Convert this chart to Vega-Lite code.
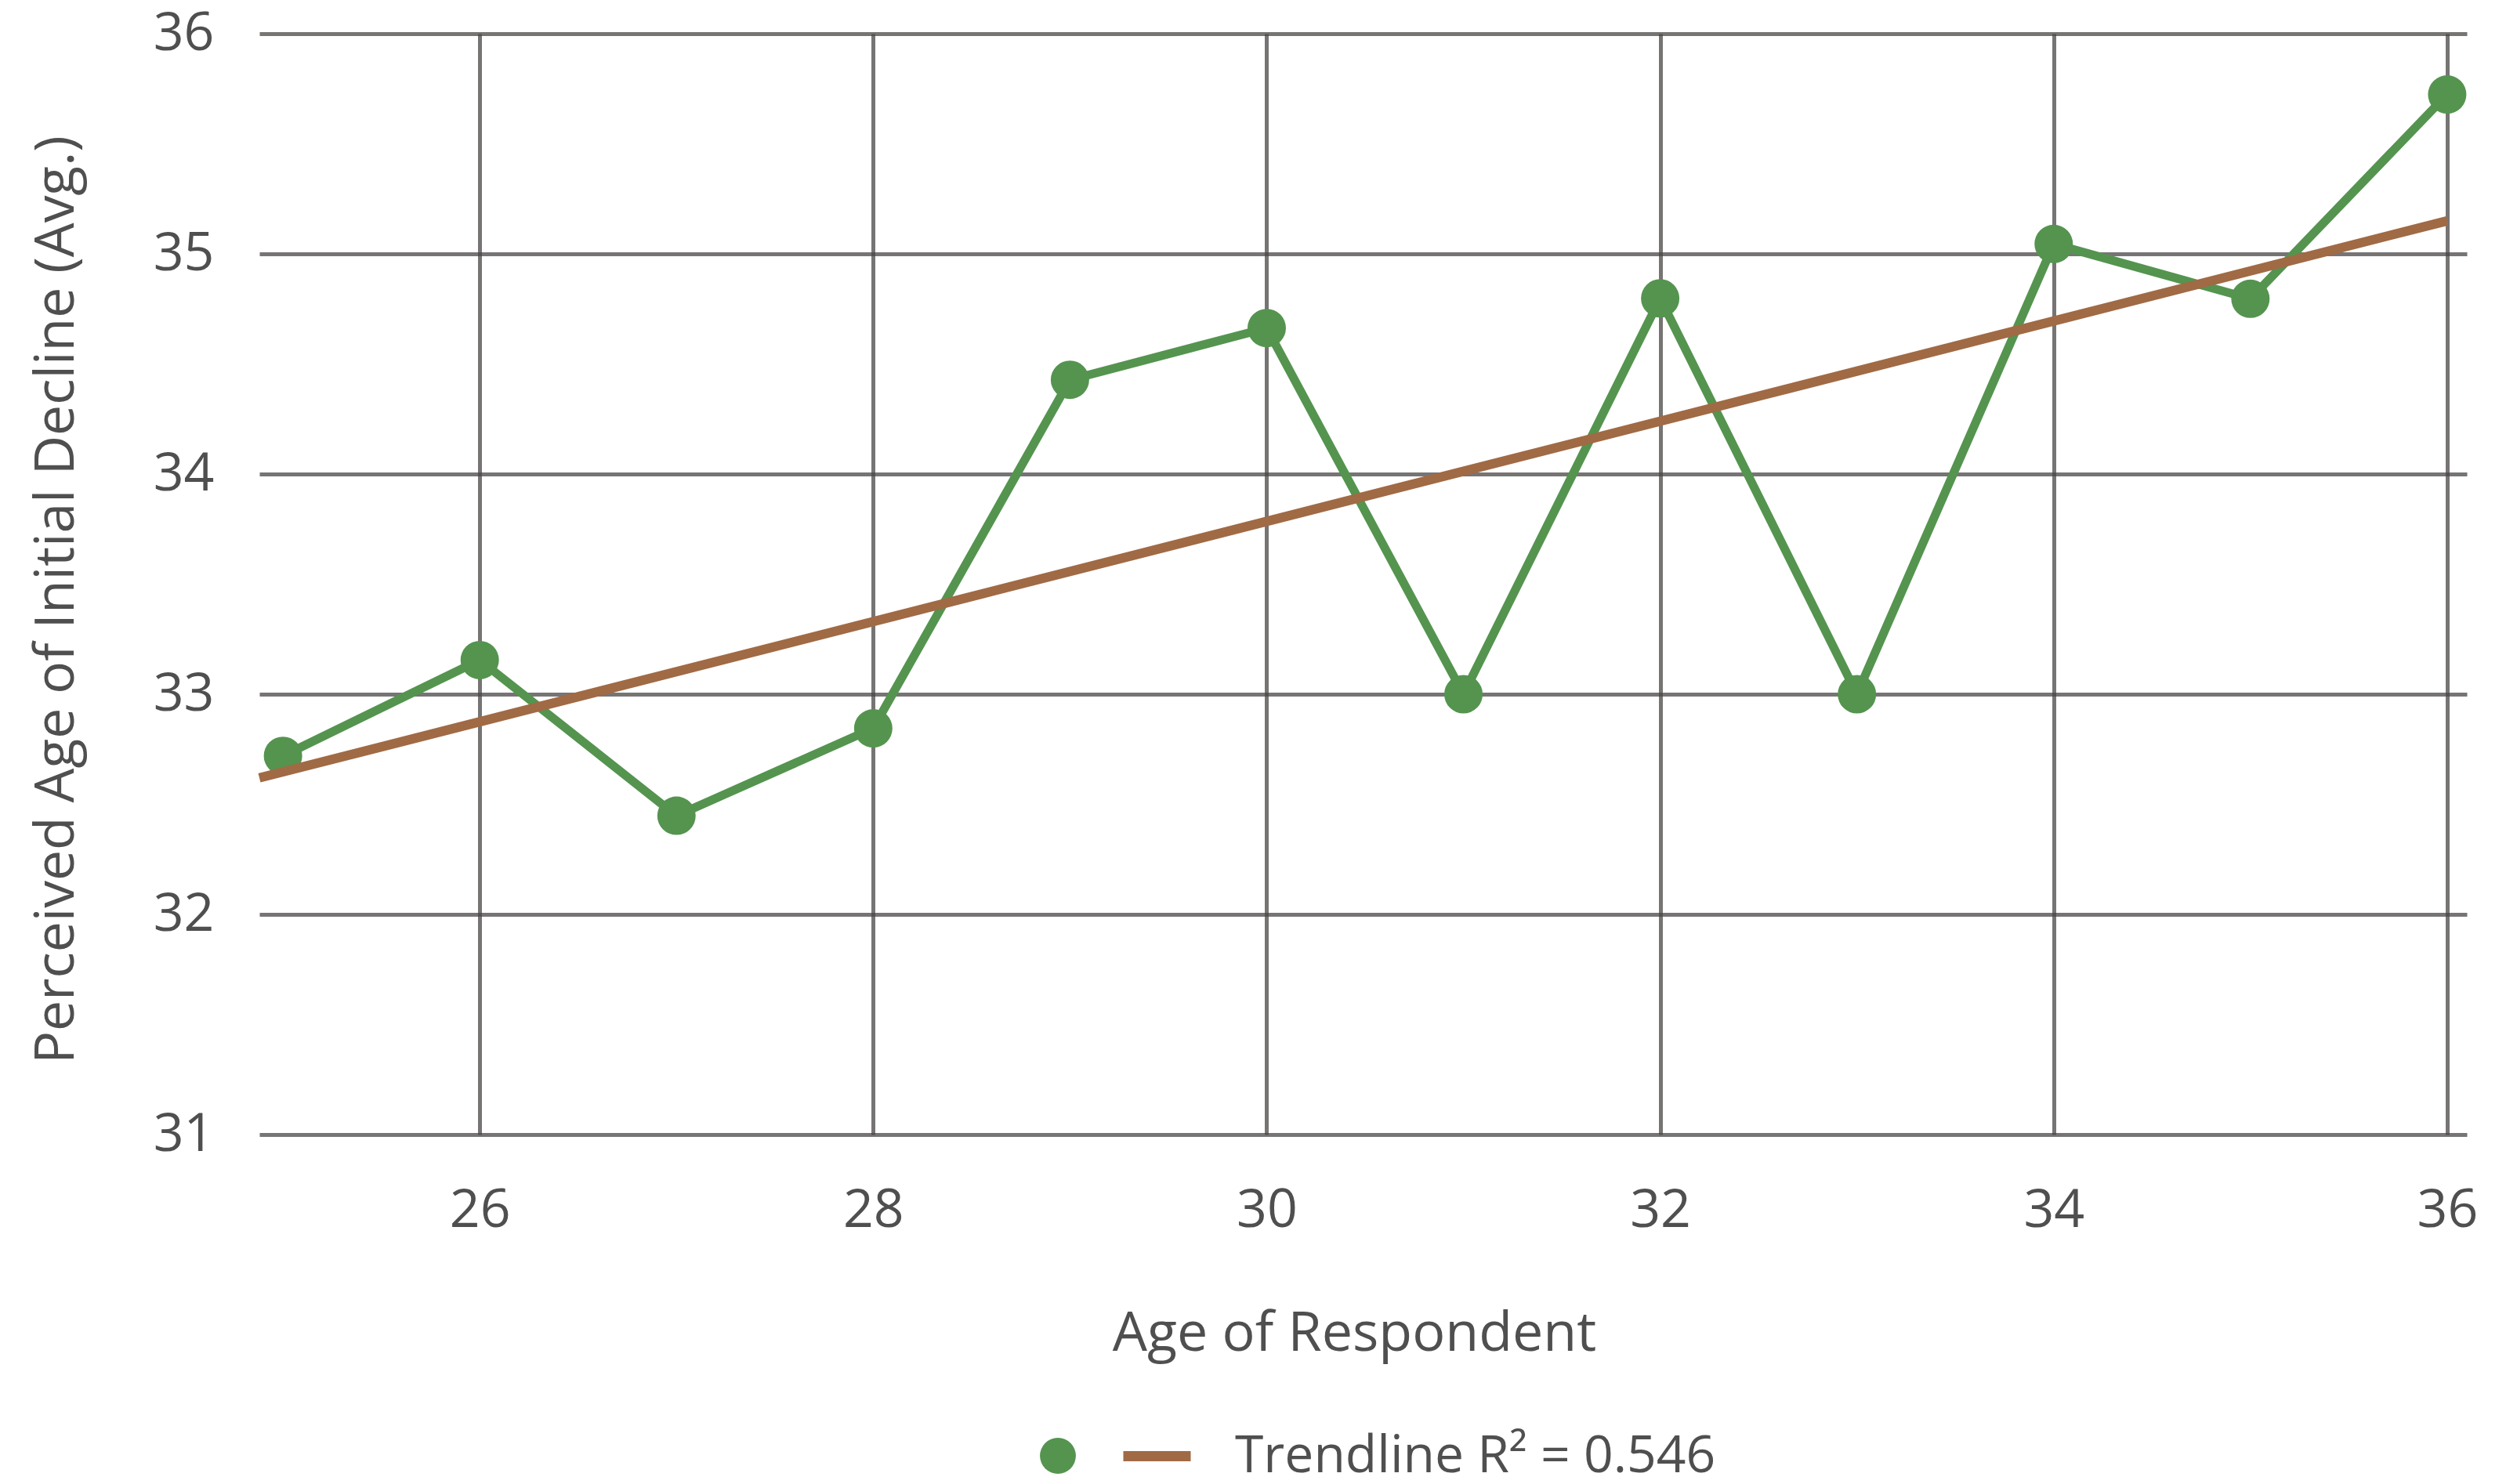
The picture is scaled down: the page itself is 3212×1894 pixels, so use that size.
{
  "$schema": "https://vega.github.io/schema/vega-lite/v6.json",
  "width": 2817,
  "height": 1405,
  "autosize": {"type": "none"},
  "padding": {"left": 331, "top": 43, "right": 64, "bottom": 446},
  "background": "white",
  "datasets": {
    "obs": [
      {"age": 25, "perceived": 32.72},
      {"age": 26, "perceived": 33.155},
      {"age": 27, "perceived": 32.448},
      {"age": 28, "perceived": 32.845},
      {"age": 29, "perceived": 34.428},
      {"age": 30, "perceived": 34.663},
      {"age": 31, "perceived": 33.0},
      {"age": 32, "perceived": 34.798},
      {"age": 33, "perceived": 33.0},
      {"age": 34, "perceived": 35.045},
      {"age": 35, "perceived": 34.796},
      {"age": 36, "perceived": 35.724}
    ],
    "trend": [
      {"age": 24.88, "perceived": 32.62},
      {"age": 36, "perceived": 35.15}
    ]
  },
  "config": {
    "font": "Open Sans",
    "view": {"stroke": null},
    "axis": {
      "labelFont": "Open Sans",
      "labelFontSize": 68,
      "labelColor": "#4f4f4f",
      "titleFont": "Open Sans",
      "titleFontSize": 70,
      "titleFontWeight": "normal",
      "titleColor": "#4f4f4f",
      "grid": true,
      "gridColor": "#4a4545",
      "gridOpacity": 0.75,
      "gridWidth": 5,
      "domain": false,
      "ticks": false,
      "format": "d"
    },
    "legend": {
      "labelFont": "Open Sans",
      "labelFontSize": 66,
      "labelColor": "#4f4f4f",
      "labelLimit": 0
    }
  },
  "layer": [
    {
      "data": {"name": "obs"},
      "mark": {"type": "line", "color": "#54944f", "strokeWidth": 11, "strokeJoin": "round"},
      "encoding": {
        "x": {
          "field": "age",
          "type": "quantitative",
          "scale": {"domain": [24.88, 36.1], "nice": false, "zero": false},
          "axis": {
            "values": [26, 28, 30, 32, 34, 36],
            "format": "d",
            "title": "Age of Respondent",
            "labelPadding": 63,
            "titleX": 1397,
            "titleY": 275,
            "titleBaseline": "alphabetic"
          }
        },
        "y": {
          "field": "perceived",
          "type": "quantitative",
          "scale": {"domain": [31, 36], "nice": false, "zero": false},
          "axis": {
            "values": [31, 32, 33, 34, 35, 36],
            "format": "d",
            "title": "Perceived Age of Initial Decline (Avg.)",
            "titleFontSize": 69.5,
            "labelPadding": 58,
            "titleX": -259,
            "titleY": 722,
            "titleAngle": -90,
            "titleBaseline": "middle",
            "titleAlign": "center"
          }
        }
      }
    },
    {
      "data": {"name": "obs"},
      "mark": {"type": "point", "filled": true, "opacity": 1, "size": 2400},
      "encoding": {
        "x": {"field": "age", "type": "quantitative"},
        "y": {"field": "perceived", "type": "quantitative"},
        "fill": {
          "datum": "",
          "type": "nominal",
          "scale": {"domain": [""], "range": ["#54944f"]},
          "legend": {
            "orient": "none",
            "legendX": 986,
            "legendY": 1782,
            "direction": "horizontal",
            "title": null,
            "symbolType": "circle",
            "symbolSize": 2100,
            "symbolStrokeWidth": 0,
            "symbolOpacity": 1,
            "labelOffset": 0
          }
        }
      }
    },
    {
      "data": {"name": "trend"},
      "mark": {"type": "line", "strokeWidth": 12},
      "encoding": {
        "x": {"field": "age", "type": "quantitative"},
        "y": {"field": "perceived", "type": "quantitative"},
        "stroke": {
          "datum": "Trendline R² = 0.546",
          "type": "nominal",
          "scale": {"domain": ["Trendline R² = 0.546"], "range": ["#a06a45"]},
          "legend": {
            "orient": "none",
            "legendX": 1096,
            "legendY": 1766,
            "direction": "horizontal",
            "title": null,
            "symbolType": "stroke",
            "symbolSize": 7396,
            "symbolStrokeWidth": 13,
            "symbolOpacity": 1,
            "labelOffset": 50
          }
        }
      }
    }
  ]
}
